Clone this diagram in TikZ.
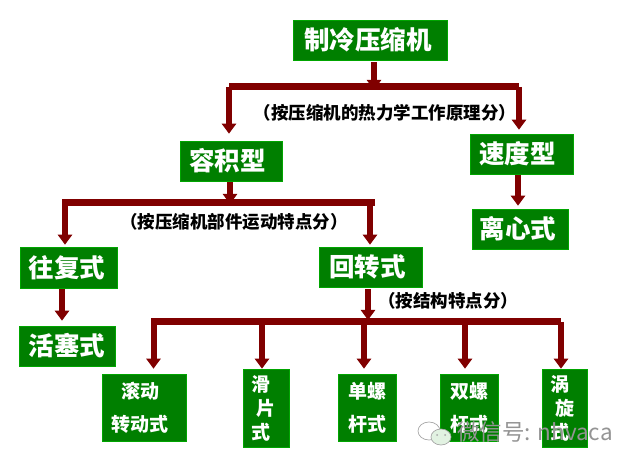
\documentclass[tikz,border=0pt]{standalone}
\usepackage{fontspec}
\setmainfont{Noto Sans CJK SC}
\usetikzlibrary{arrows.meta}
\definecolor{boxgreen}{HTML}{007F00}
\definecolor{flowred}{HTML}{800000}
\definecolor{bubblegreen}{HTML}{E2F2E2}
\newcommand{\nudge}[1]{\hspace*{#1pt}}
\tikzset{
  kind/.style={draw=green!30!boxgreen, line width=0.6pt, fill=boxgreen, text=white, inner sep=0pt, align=center},
  bigkind/.style={kind, font=\fontsize{25.5}{28}\selectfont\bfseries},
  smallkind/.style={kind, font=\fontsize{19}{33}\selectfont\bfseries},
  flow/.style={draw=flowred, line width=6pt, -{Triangle[length=10pt,width=14pt]}},
  bar/.style={draw=flowred, line width=7pt},
  remark/.style={font=\fontsize{17.5}{18}\selectfont\bfseries, text=black, inner sep=0pt},
  mark text/.style={text=black!42, font=\fontsize{22.5}{24}\selectfont, inner sep=0pt},
  bubble/.style={draw=black!35, line width=0.7pt}
}
\begin{document}
\begin{tikzpicture}[x=1pt,y=-1pt]
    \useasboundingbox (0,0) rectangle (630,465);

    % Boxes
    \node[bigkind, minimum width=154pt, minimum height=40pt] (machine) at (370,40) {制冷压缩机\nudge{4}};
    \node[bigkind, minimum width=102pt, minimum height=40pt] (volume) at (231,161) {容积型\nudge{7}};
    \node[bigkind, minimum width=103pt, minimum height=40pt] (speed) at (521.5,154) {速度型\nudge{8}};
    \node[bigkind, minimum width=96pt, minimum height=40pt] (centri) at (520,229) {离心式\nudge{4}};
    \node[bigkind, minimum width=97pt, minimum height=41pt] (recip) at (68.5,267.5) {往复式\nudge{3}};
    \node[bigkind, minimum width=103pt, minimum height=40pt] (rotary) at (370.5,267) {回转式\nudge{6}};
    \node[bigkind, minimum width=96pt, minimum height=40pt] (piston) at (67,346) {活塞式};
    \node[smallkind, minimum width=84pt, minimum height=67pt] (rolling) at (144,407.5) {滚动\nudge{8}\\转动式\nudge{8}};
    \node[smallkind, minimum width=46pt, minimum height=78pt] (vane) at (266,408) {滑\nudge{10}\\[-9pt]片\nudge{10}\\[-9pt]式\nudge{10}};
    \node[smallkind, minimum width=58pt, minimum height=67pt] (single) at (367,407.5) {单螺\\杆式};
    \node[smallkind, minimum width=58pt, minimum height=67pt] (twin) at (469,407.5) {双螺\\杆式};
    \node[smallkind, minimum width=45pt, minimum height=78pt] (scroll) at (564.5,408) {涡\nudge{10}\\[-9pt]旋\nudge{10}\\[-9pt]式\nudge{10}};

    % Bars
    \coordinate (busAl) at (229,87);
    \coordinate (busAr) at (519,87);
    \coordinate (busBl) at (62,203);
    \coordinate (busBr) at (375,203);
    \coordinate (busCl) at (151,322);
    \coordinate (busCr) at (561,322);
    \draw[bar] (busAl) -- (busAr);
    \draw[bar] (busBl) -- (busBr);
    \draw[bar] (busCl) -- (busCr);

    % Arrows
    \draw[flow, shorten <=2pt, shorten >=-3pt] (machine.south -| 374,0) -- (374,81 |- busAl);
    \draw[flow, shorten >=7pt] (busAl) -- (busAl |- volume.north);
    \draw[flow, shorten >=4pt] (busAr) -- (busAr |- speed.north);
    \draw[flow, shorten <=1pt, shorten >=3pt] (speed.south -| 518,0) -- (518,0 |- centri.north);
    \draw[flow, shorten <=1pt, shorten >=-1pt] (volume.south -| 230,0) -- (230,0 |- busBl);

    \coordinate (dropBl) at (65,203);
    \coordinate (dropBr) at (370,203);
    \draw[flow, shorten >=2pt] (dropBl) -- (dropBl |- recip.north);
    \draw[flow, shorten >=2pt] (dropBr) -- (dropBr |- rotary.north);
    \draw[flow, shorten <=1pt, shorten >=5pt] (recip.south -| 62,0) -- (62,0 |- piston.north);
    \draw[flow, shorten <=2pt, shorten >=2pt] (rotary.south -| 368,0) -- (368,0 |- busCl);

    \coordinate (dropC1) at (153.5,322);
    \coordinate (dropC2) at (262,322);
    \coordinate (dropC3) at (364,322);
    \coordinate (dropC4) at (465,322);
    \coordinate (dropC5) at (561,322);
    \draw[flow, shorten >=5pt] (dropC1) -- (dropC1 |- rolling.north);
    \draw[flow] (dropC2) -- (dropC2 |- vane.north);
    \draw[flow, shorten >=5pt] (dropC3) -- (dropC3 |- single.north);
    \draw[flow, shorten >=5pt] (dropC4) -- (dropC4 |- twin.north);
    \draw[flow] (dropC5) -- (dropC5 |- scroll.north);

    % Remarks
    \node[remark] (remarkA) at (385,113) {（按压缩机的热力学工作原理分）};
    \node[remark] (remarkB) at (234,222) {（按压缩机部件运动特点分）};
    \node[remark] (remarkC) at (448,301) {（按结构特点分）};

    % Watermark
    \draw[bubble, fill=white, fill opacity=0.6] (429,431) ellipse (11pt and 9pt);
    \draw[bubble, fill=bubblegreen] (441,437) ellipse (10pt and 8pt);
    \fill[black!35] (437,435) circle (1pt) (445,435) circle (1pt);
    \node[mark text, anchor=west] (wechat) at (457,432) {微信号: nhvaca};
\end{tikzpicture}
\end{document}
